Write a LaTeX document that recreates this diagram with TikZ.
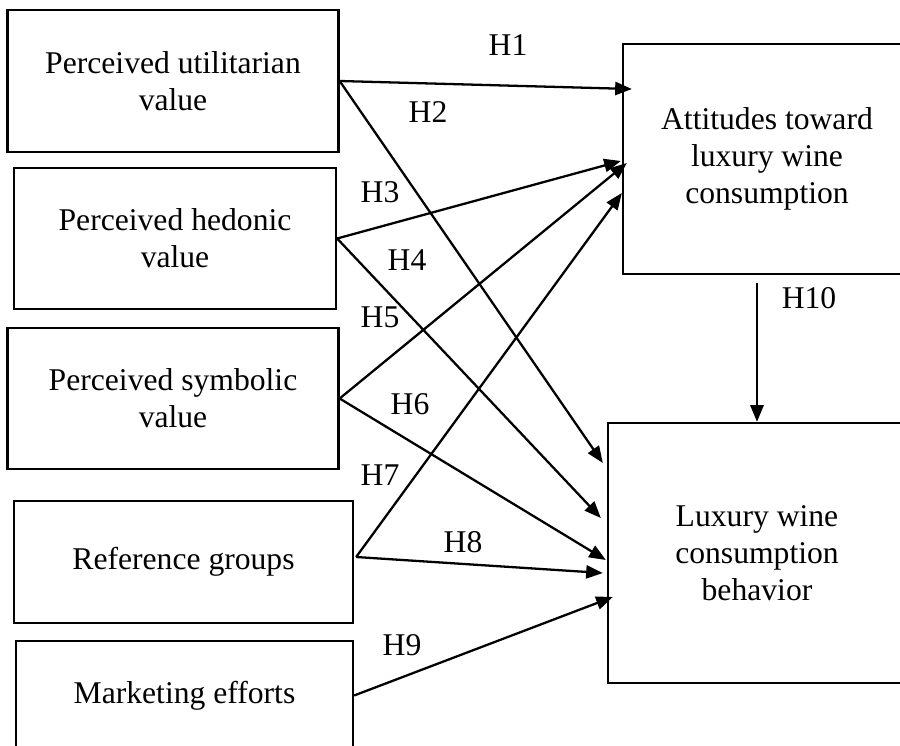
\documentclass[tikz,border=0pt]{standalone}
\usepackage{fontspec}
\setmainfont{Liberation Serif}
\usetikzlibrary{arrows.meta,calc}

\begin{document}
\begin{tikzpicture}[
  every node/.style={font=\fontsize{18}{21}\selectfont},
  varbox/.style={draw, line width=1.3pt, align=center, inner sep=0pt},
  hyp/.style={line width=1.3pt, -{Triangle[length=9.5pt,width=7.5pt]}},
  hyplabel/.style={inner sep=0pt}]
\useasboundingbox (0,0) rectangle (18,-14.92);
\clip (0,0) rectangle (18,-14.92);
\node[varbox, minimum width=6.62cm, minimum height=2.84cm] (PU) at (3.46,-1.62) {Perceived utilitarian\\value};
\node[varbox, minimum width=6.44cm, minimum height=2.82cm] (PH) at (3.50,-4.77) {Perceived hedonic\\value};
\node[varbox, minimum width=6.62cm, minimum height=2.82cm] (PS) at (3.46,-7.97) {Perceived symbolic\\value};
\node[varbox, minimum width=6.78cm, minimum height=2.44cm] (RG) at (3.67,-11.24) {Reference groups};
\node[varbox, minimum width=6.74cm, minimum height=2.18cm] (ME) at (3.69,-13.91) {Marketing efforts};
\node[varbox, minimum width=5.76cm, minimum height=4.60cm] (ATT) at (15.34,-3.18) {Attitudes toward\\luxury wine\\consumption};
\node[varbox, minimum width=5.96cm, minimum height=5.20cm] (LWC) at (15.14,-11.06) {Luxury wine\\consumption\\behavior};
\draw[hyp] (PU.east) -- ($(ATT.west)+(0.20,1.40)$);
\draw[hyp] (PU.east) -- ($(LWC.west)+(-0.08,1.80)$);
\draw[hyp] (PH.east) -- ($(ATT.west)+(-0.02,-0.04)$);
\draw[hyp] (PH.east) -- ($(LWC.west)+(-0.12,0.70)$);
\draw[hyp] (PS.east) -- ($(ATT.west)+(0.10,-0.08)$);
\draw[hyp] (PS.east) -- ($(LWC.west)+(-0.02,-0.14)$);
\draw[hyp] ($(RG.east)+(0.04,0.10)$) -- ($(ATT.west)+(0,-0.68)$);
\draw[hyp] ($(RG.east)+(0.04,0.10)$) -- ($(LWC.west)+(-0.08,-0.40)$);
\draw[hyp] (ME.east) -- ($(LWC.west)+(0.12,-0.88)$);
\draw[hyp] ($(ATT.south -| LWC.north)+(0,-0.16)$) -- (LWC.north);
\node[hyplabel] (H1) at (10.16,-0.90) {H1};
\node[hyplabel] (H2) at (8.56,-2.24) {H2};
\node[hyplabel] (H3) at (7.60,-3.84) {H3};
\node[hyplabel] (H4) at (8.14,-5.20) {H4};
\node[hyplabel] (H5) at (7.60,-6.34) {H5};
\node[hyplabel] (H6) at (8.20,-8.08) {H6};
\node[hyplabel] (H7) at (7.60,-9.50) {H7};
\node[hyplabel] (H8) at (9.26,-10.84) {H8};
\node[hyplabel] (H9) at (8.04,-12.90) {H9};
\node[hyplabel] (H10) at (16.18,-5.96) {H10};
\end{tikzpicture}
\end{document}
